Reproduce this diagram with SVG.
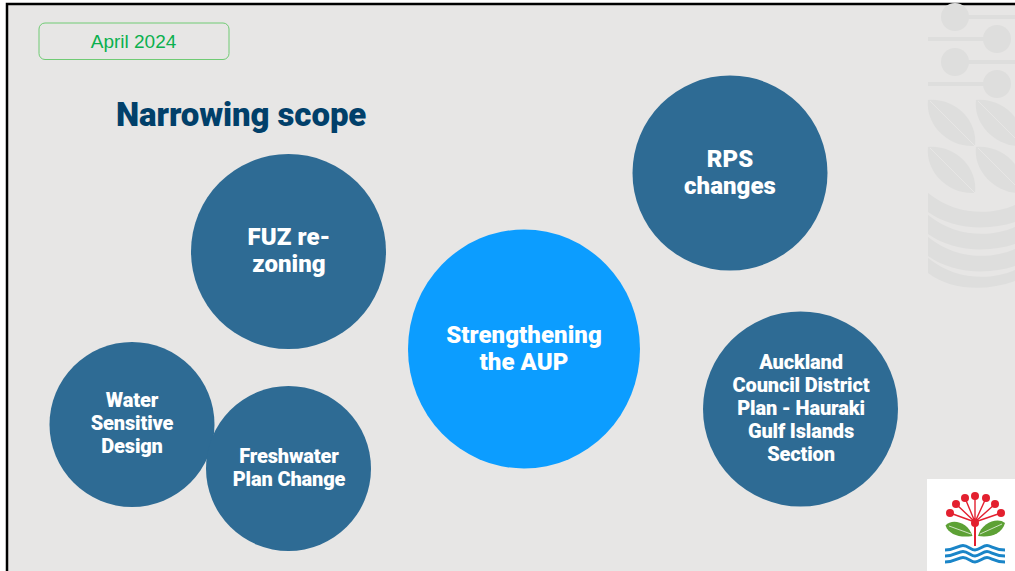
<svg xmlns="http://www.w3.org/2000/svg" width="1015" height="571" viewBox="0 0 1015 571">
<style>
.c{font-family:"Roboto","Liberation Sans",sans-serif;font-weight:900;fill:#fff;text-anchor:middle}
.l{font-size:24px;letter-spacing:.05px}
.m{font-size:20px;letter-spacing:-.15px}
.n{fill:#2e6b94}
.d{fill:#dededd}
.s{stroke:#dededd;stroke-width:4;fill:none}
.r{stroke:#e3202f;stroke-width:1.4;fill:none}
.f{fill:#e3202f}
.w{stroke:#1a85c8;stroke-width:3;fill:none}
</style>
<defs>
<g id="leaf"><path class="d" d="M0 0C27 -2 50 20 47 46C21 48 -3 25 0 0Z"/><path d="M2 1L47 46" stroke="#e7e6e5" stroke-width="1"/></g>
</defs>
<rect width="1015" height="571" fill="#fff"/>
<rect x="7" y="4" width="1010" height="570" fill="#e7e6e5" stroke="#000" stroke-width="2.5"/>
<g id="decoration">
<circle class="d" cx="955" cy="17" r="14"/><path class="s" d="M955 17H1015"/>
<circle class="d" cx="997" cy="39" r="14"/><path class="s" d="M928 39H997"/>
<circle class="d" cx="955" cy="62" r="14"/><path class="s" d="M955 62H1015"/>
<circle class="d" cx="997" cy="84" r="14"/><path class="s" d="M928 84H997"/>
<use href="#leaf" x="928" y="100"/><use href="#leaf" x="976" y="100"/><use href="#leaf" x="928" y="147"/><use href="#leaf" x="976" y="147"/>
<path class="d" d="M928 193C955 215 990 216 1015 205V222C985 232 950 228 928 212Z"/>
<path class="d" d="M928 215C955 237 990 238 1015 227V244C985 254 950 250 928 234Z"/>
<path class="d" d="M928 237C955 259 990 260 1015 249V266C985 276 950 272 928 256Z"/>
<path class="d" d="M928 258C955 280 990 281 1015 270V281C985 292 950 290 928 273Z"/>
</g>
<g id="date"><rect x="39" y="23" width="190" height="36.500" rx="6" fill="none" stroke="#70cb74" stroke-width="1"/>
<text x="133.500" y="47.500" font-family="Liberation Sans,sans-serif" font-size="19" fill="#0bb04f" text-anchor="middle">April 2024</text></g>
<text id="title" x="116" y="126" font-family="Roboto,sans-serif" font-weight="900" font-size="33" letter-spacing="-.1" fill="#01406a">Narrowing scope</text>
<g id="connectors"></g>
<g id="node-rps"><circle class="n" cx="730" cy="173" r="97.500"/><text class="c l" x="730" y="167">RPS</text><text class="c l" x="730" y="194">changes</text></g>
<g id="node-fuz"><circle class="n" cx="288.500" cy="251.500" r="97.500"/><text class="c l" x="289" y="245">FUZ re-</text><text class="c l" x="289" y="272">zoning</text></g>
<g id="node-aup"><ellipse cx="524" cy="349" rx="116" ry="119.500" fill="#0c9dff"/><text class="c l" x="524" y="343">Strengthening</text><text class="c l" x="524" y="370">the AUP</text></g>
<g id="node-water"><circle class="n" cx="132" cy="424.500" r="82.500"/><text class="c m" x="132" y="407">Water</text><text class="c m" x="132" y="430">Sensitive</text><text class="c m" x="132" y="453">Design</text></g>
<g id="node-fresh"><circle class="n" cx="288.500" cy="468.500" r="82.500"/><text class="c m" x="289" y="463">Freshwater</text><text class="c m" x="289" y="486">Plan Change</text></g>
<g id="node-district"><circle class="n" cx="800.500" cy="409" r="97.500"/><text class="c m" x="801" y="369">Auckland</text><text class="c m" x="801" y="392">Council District</text><text class="c m" x="801" y="415">Plan - Hauraki</text><text class="c m" x="801" y="438">Gulf Islands</text><text class="c m" x="801" y="461">Section</text></g>
<g id="logo"><rect x="927" y="479" width="88" height="92" fill="#fff"/>
<path class="r" d="M975 522L950 513M975 522L956 504M975 522L965 498M975 522V496M975 522L986 498M975 522L995 504M975 522L1001 513"/>
<path d="M975 522V546" stroke="#e3202f" stroke-width="2"/>
<circle class="f" cx="950" cy="513" r="4"/><circle class="f" cx="956" cy="504" r="4"/><circle class="f" cx="965" cy="498" r="4"/><circle class="f" cx="975" cy="496" r="4"/><circle class="f" cx="986" cy="498" r="4"/><circle class="f" cx="995" cy="504" r="4"/><circle class="f" cx="1001" cy="513" r="4"/><circle class="f" cx="975" cy="523" r="4"/>
<path d="M945.500 525.500C952 518 968 522 972.500 536C960 538 949 535 945.500 525.500Z" fill="#5da135"/><path d="M1005 523C998 517 982 522 978 536C990 538 1002 534 1005 523Z" fill="#5da135"/>
<path d="M949 526L971 534M1002 524L980 534" stroke="#fff" stroke-width=".7"/>
<path class="w" d="M945 550C955 550 958 545.500 963 545.500S971 550 975 550 983 545.500 987 545.500 995 550 1005 550"/>
<path class="w" d="M945 556C955 556 958 551.500 963 551.500S971 556 975 556 983 551.500 987 551.500 995 556 1005 556"/>
<path class="w" d="M945 562C955 562 958 557.500 963 557.500S971 562 975 562 983 557.500 987 557.500 995 562 1005 562"/>
</g>
</svg>
